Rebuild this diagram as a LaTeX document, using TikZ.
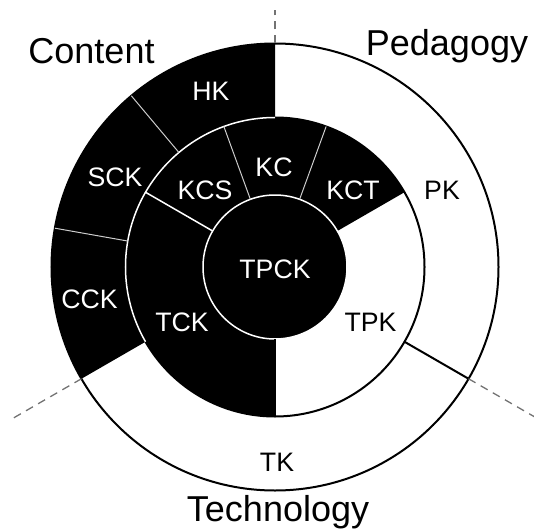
\documentclass[tikz,border=0pt]{standalone}
\usepackage{fontspec}
\setmainfont{Liberation Sans}
\begin{document}
\begin{tikzpicture}[x=1pt,y=1pt,
  inlbl/.style={font=\fontsize{26.7}{30}\selectfont, inner sep=0pt, anchor=base},
  onblack/.style={inlbl, text=white},
  onwhite/.style={inlbl, text=black},
  titlelbl/.style={font=\fontsize{36}{40}\selectfont, inner sep=0pt, anchor=base},
  rim/.style={line width=2pt, black},
  seam/.style={line width=1.5pt, white},
  hairseam/.style={line width=1pt, white!80!black},
  axisdash/.style={line width=1.3pt, black!55, dash pattern=on 8pt off 6pt}]
\useasboundingbox (-275,-263) rectangle (259,267);
\def\ri{72}
\def\rm{149.5}
\def\ro{223.5}

% outer disc
\fill[white] (0,0) circle (\ro);
% Content sector of the outer ring
\fill[black] (0,0) -- (90:\ro) arc (90:210:\ro) -- cycle;
% content-related sectors of the middle ring (KCT, KC, KCS, TCK)
\fill[black] (0,0) -- (30:\rm) arc (30:270:\rm) -- cycle;

% circle outlines
\draw[rim] (0,0) circle (\ro);
\draw[rim] (0,0) circle (\rm);
\draw[seam] (90:\rm) arc (90:210:\rm);

% inner TPCK disc
\fill[black] (0,0) circle (\ri);
\draw[seam] (0,0) circle (\ri);

% radial dividers
\draw[hairseam] (130:\rm) -- (130:\ro);
\draw[hairseam] (170:\rm) -- (170:\ro);
\draw[hairseam] (70:\ri) -- (70:\rm);
\draw[hairseam] (110:\ri) -- (110:\rm);
\draw[seam] (150:\ri) -- (150:\rm);
\draw[line width=1.2pt] (270:\ri) -- (270:\rm);
\draw[rim] (-30:\rm) -- (-30:\ro);

% domain axes
\coordinate (topin) at (90:\ro);
\coordinate (topout) at (90:257);
\coordinate (leftin) at (210:\ro);
\coordinate (leftout) at (210:302);
\coordinate (rightin) at (330:\ro);
\coordinate (rightout) at (330:302);
\draw[axisdash] (topin) -- (topout);
\draw[axisdash] (leftin) -- (leftout);
\draw[axisdash] (rightin) -- (rightout);

% ring labels
\node[onblack] (hk) at (-64,166.5) {HK};
\node[onblack] (sck) at (-160,81) {SCK};
\node[onblack] (cck) at (-185.5,-41) {CCK};
\node[onblack] (kcs) at (-70,68) {KCS};
\node[onblack] (kc) at (-1,90) {KC};
\node[onblack] (kct) at (78,68) {KCT};
\node[onwhite] (pk) at (167,67.5) {PK};
\node[onblack] (tpck) at (0,-11) {TPCK};
\node[onblack] (tck) at (-93,-64) {TCK};
\node[onwhite] (tpk) at (95.5,-64) {TPK};
\node[onwhite] (tk) at (2,-204) {TK};

% domain titles
\node[titlelbl] (content) at (-183.5,203.7) {Content};
\node[titlelbl] (pedagogy) at (172,211) {Pedagogy};
\node[titlelbl] (technology) at (3,-254.5) {Technology};
\end{tikzpicture}
\end{document}
